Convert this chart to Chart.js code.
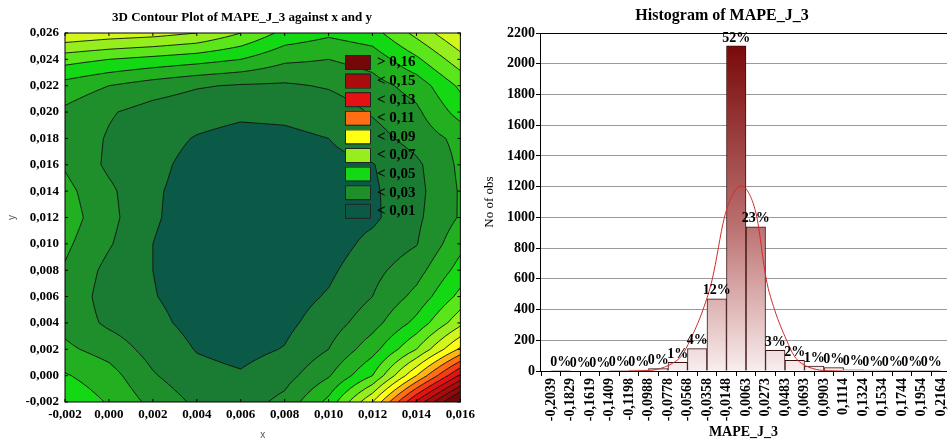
<!DOCTYPE html>
<html>
<head>
<meta charset="utf-8">
<script src="https://cdn.jsdelivr.net/npm/chart.js@4.4.1/dist/chart.umd.min.js"></script>
<style>
html,body{margin:0;padding:0;background:#fff;overflow:hidden;width:950px;height:441px;}
#contourBox{position:absolute;left:0;top:0;width:480px;height:441px;}
#histBox{position:absolute;left:480px;top:0;width:480px;height:441px;}
</style>
</head>
<body>
<div id="contourBox"><canvas id="contourChart" width="480" height="441"></canvas></div>
<div id="histBox"><canvas id="histChart" width="480" height="441"></canvas></div>
<script>
Chart.defaults.font.family = "'Liberation Serif', 'Times New Roman', serif";
Chart.defaults.color = '#000';

// ---- left: MAPE_J_3, on a 0.002 grid ----
const gridX = [-0.002, 0.000, 0.002, 0.004, 0.006, 0.008, 0.010, 0.012, 0.014, 0.016];
const gridY = [0.026, 0.024, 0.022, 0.020, 0.018, 0.016, 0.014, 0.012, 0.010, 0.008, 0.006, 0.004, 0.002, 0.000, -0.002];

const zY026 = [0.079, 0.076, 0.074, 0.070, 0.060, 0.047, 0.042, 0.046, 0.063, 0.080];
const zY024 = [0.054, 0.050, 0.047, 0.044, 0.040, 0.032, 0.030, 0.034, 0.048, 0.066];
const zY022 = [0.036, 0.030, 0.025, 0.021, 0.019, 0.0185, 0.021, 0.026, 0.034, 0.052];
const zY020 = [0.028, 0.021, 0.016, 0.013, 0.0115, 0.012, 0.014, 0.021, 0.028, 0.044];
const zY018 = [0.027, 0.019, 0.013, 0.0095, 0.0075, 0.008, 0.010, 0.016, 0.024, 0.033];
const zY016 = [0.029, 0.018, 0.012, 0.0075, 0.0055, 0.006, 0.007, 0.0095, 0.018, 0.032];
const zY014 = [0.033, 0.022, 0.011, 0.007, 0.005, 0.005, 0.006, 0.0085, 0.017, 0.031];
const zY012 = [0.035, 0.023, 0.011, 0.006, 0.004, 0.004, 0.005, 0.008, 0.018, 0.031];
const zY010 = [0.032, 0.021, 0.010, 0.005, 0.003, 0.003, 0.005, 0.013, 0.0195, 0.037];
const zY008 = [0.029, 0.017, 0.010, 0.005, 0.003, 0.0035, 0.008, 0.017, 0.026, 0.044];
const zY006 = [0.028, 0.015, 0.0105, 0.006, 0.004, 0.0055, 0.011, 0.020, 0.033, 0.053];
const zY004 = [0.027, 0.018, 0.0125, 0.007, 0.005, 0.0075, 0.015, 0.026, 0.043, 0.067];
const zY002 = [0.032, 0.026, 0.016, 0.0095, 0.007, 0.0105, 0.020, 0.036, 0.060, 0.092];
const zY000 = [0.041, 0.034, 0.021, 0.013, 0.011, 0.016, 0.029, 0.050, 0.090, 0.132];
const zYm002 = [0.048, 0.039, 0.027, 0.018, 0.015, 0.023, 0.043, 0.080, 0.132, 0.178];
const zRows = [zY026, zY024, zY022, zY020, zY018, zY016, zY014, zY012, zY010, zY008, zY006, zY004, zY002, zY000, zYm002];

const contourLevels = [0.01, 0.02, 0.03, 0.04, 0.05, 0.06, 0.07, 0.08, 0.09, 0.10, 0.11, 0.12, 0.13, 0.14, 0.15, 0.16];
const legendLabels = ['> 0,16', '< 0,15', '< 0,13', '< 0,11', '< 0,09', '< 0,07', '< 0,05', '< 0,03', '< 0,01'];

// ---- right: histogram of MAPE_J_3 ----
const binEdges = [-0.2039, -0.1829, -0.1619, -0.1409, -0.1198, -0.0988, -0.0778, -0.0568, -0.0358, -0.0148,
  0.0063, 0.0273, 0.0483, 0.0693, 0.0903, 0.1114, 0.1324, 0.1534, 0.1744, 0.1954, 0.2164];
const binCounts = [2, 0, 0, 2, 6, 15, 56, 146, 470, 2116, 939, 135, 69, 32, 22, 8, 6, 2, 2, 2];
const binPercents = ['0%', '0%', '0%', '0%', '0%', '0%', '1%', '4%', '12%', '52%', '23%', '3%', '2%', '1%', '0%', '0%', '0%', '0%', '0%', '0%'];
// fitted normal curve
const curveX = [-0.120, -0.105, -0.090, -0.073, -0.063, -0.054, -0.040, -0.030, -0.017, -0.008, 0.001, 0.010, 0.018, 0.028, 0.037, 0.050, 0.058, 0.066, 0.082, 0.095, 0.110];
const curveY = [0, 2, 10, 50, 100, 200, 400, 600, 1000, 1150, 1205, 1150, 1000, 600, 400, 200, 100, 50, 10, 2, 0];

// band colours, lowest band first
const bandColors = ['#0b5a47', '#1a7b33', '#1f8f2b', '#22b021', '#14d814', '#5ae61a', '#96ee1e', '#d2f71a', '#ffff14',
  '#ffb514', '#ff6e12', '#f53c12', '#e41212', '#c70e0e', '#ac0b0b', '#900a0a', '#740808'];
const legendBands = [16, 14, 12, 10, 8, 6, 4, 2, 0];

function commaFix(v, d) {
  if (Math.abs(v) < 1e-12) v = 0;
  return v.toFixed(d).replace('.', ',');
}

function zAt(xv, yv) {
  const fx = (xv - gridX[0]) / (gridX[1] - gridX[0]);
  const fy = (gridY[0] - yv) / (gridY[0] - gridY[1]);
  const i = Math.min(Math.max(Math.floor(fx), 0), gridX.length - 2);
  const j = Math.min(Math.max(Math.floor(fy), 0), gridY.length - 2);
  const tx = fx - i, ty = fy - j;
  const r0 = zRows[j], r1 = zRows[j + 1];
  return (r0[i] * (1 - tx) + r0[i + 1] * tx) * (1 - ty) + (r1[i] * (1 - tx) + r1[i + 1] * tx) * ty;
}

function bandOf(z) {
  let k = 0;
  while (k < contourLevels.length && z >= contourLevels[k]) k++;
  return k;
}

function hexRgb(h) {
  return [parseInt(h.slice(1, 3), 16), parseInt(h.slice(3, 5), 16), parseInt(h.slice(5, 7), 16)];
}

const contourPlugin = {
  id: 'contourPlugin',
  beforeDatasetsDraw(chart) {
    const {ctx, chartArea: a, scales: {x, y}} = chart;
    const w = Math.round(a.right - a.left), h = Math.round(a.bottom - a.top);
    const off = document.createElement('canvas');
    off.width = w; off.height = h;
    const octx = off.getContext('2d');
    const img = octx.createImageData(w, h);
    const rgb = bandColors.map(hexRgb);
    for (let j = 0; j < h; j++) {
      const yv = y.getValueForPixel(a.top + j + 0.5);
      for (let i = 0; i < w; i++) {
        const c = rgb[bandOf(zAt(x.getValueForPixel(a.left + i + 0.5), yv))];
        const p = (j * w + i) * 4;
        img.data[p] = c[0]; img.data[p + 1] = c[1]; img.data[p + 2] = c[2]; img.data[p + 3] = 255;
      }
    }
    octx.putImageData(img, 0, 0);
    ctx.drawImage(off, a.left, a.top, w, h);

    // contour lines (marching squares on a finer resample)
    const sub = 6;
    const nx = (gridX.length - 1) * sub, ny = (gridY.length - 1) * sub;
    const dx = (gridX[gridX.length - 1] - gridX[0]) / nx;
    const dy = (gridY[gridY.length - 1] - gridY[0]) / ny;
    const vals = [];
    for (let j = 0; j <= ny; j++) {
      const row = [];
      for (let i = 0; i <= nx; i++) row.push(zAt(gridX[0] + i * dx, gridY[0] + j * dy));
      vals.push(row);
    }
    const P = (i, j) => [x.getPixelForValue(gridX[0] + i * dx), y.getPixelForValue(gridY[0] + j * dy)];
    ctx.save();
    ctx.beginPath();
    ctx.rect(a.left, a.top, a.right - a.left, a.bottom - a.top);
    ctx.clip();
    ctx.strokeStyle = '#111';
    ctx.lineWidth = 0.9;
    ctx.beginPath();
    contourLevels.forEach(L => {
      for (let j = 0; j < ny; j++) {
        for (let i = 0; i < nx; i++) {
          const c = [[i, j], [i + 1, j], [i + 1, j + 1], [i, j + 1]];
          const v = c.map(q => vals[q[1]][q[0]]);
          const pts = [];
          for (let e = 0; e < 4; e++) {
            const v1 = v[e], v2 = v[(e + 1) % 4];
            if ((v1 >= L) !== (v2 >= L)) {
              const t = (L - v1) / (v2 - v1);
              const p1 = c[e], p2 = c[(e + 1) % 4];
              pts.push(P(p1[0] + (p2[0] - p1[0]) * t, p1[1] + (p2[1] - p1[1]) * t));
            }
          }
          if (pts.length >= 2) { ctx.moveTo(pts[0][0], pts[0][1]); ctx.lineTo(pts[1][0], pts[1][1]); }
          if (pts.length === 4) { ctx.moveTo(pts[2][0], pts[2][1]); ctx.lineTo(pts[3][0], pts[3][1]); }
        }
      }
    });
    ctx.stroke();
    ctx.restore();
  },
  afterDatasetsDraw(chart) {
    const {ctx, chartArea: a, scales: {x, y}} = chart;
    ctx.save();
    // frame + small inside ticks
    ctx.strokeStyle = '#000';
    ctx.lineWidth = 1;
    ctx.strokeRect(a.left, a.top, a.right - a.left, a.bottom - a.top);
    ctx.beginPath();
    gridX.forEach(v => {
      const px = x.getPixelForValue(v);
      ctx.moveTo(px, a.bottom); ctx.lineTo(px, a.bottom - 3);
      ctx.moveTo(px, a.top); ctx.lineTo(px, a.top + 3);
    });
    gridY.forEach(v => {
      const py = y.getPixelForValue(v);
      ctx.moveTo(a.left, py); ctx.lineTo(a.left + 3, py);
      ctx.moveTo(a.right, py); ctx.lineTo(a.right - 3, py);
    });
    ctx.stroke();

    // legend
    const lx = a.left + 280, ly = a.top + 22;
    ctx.font = 'bold 15px "Liberation Serif", serif';
    ctx.textBaseline = 'middle';
    ctx.textAlign = 'left';
    legendLabels.forEach((t, k) => {
      const top = ly + k * 18.6;
      ctx.fillStyle = bandColors[legendBands[k]];
      ctx.fillRect(lx, top, 25, 14);
      ctx.strokeStyle = '#222';
      ctx.strokeRect(lx + 0.5, top + 0.5, 25, 14);
      ctx.fillStyle = '#000';
      ctx.fillText(t, lx + 32, top + 7.5);
    });

    // title
    ctx.font = 'bold 13px "Liberation Serif", serif';
    ctx.textAlign = 'center';
    ctx.fillText('3D Contour Plot of MAPE_J_3 against x and y', 242, 18);
    ctx.restore();
  }
};

new Chart(document.getElementById('contourChart'), {
  type: 'scatter',
  data: {datasets: [{data: [], pointRadius: 0}]},
  options: {
    responsive: false,
    animation: false,
    layout: {padding: {top: 33, right: 19, left: 0, bottom: 0}},
    plugins: {legend: {display: false}, tooltip: {enabled: false}},
    scales: {
      x: {
        type: 'linear', min: -0.002, max: 0.016,
        afterBuildTicks: s => { s.ticks = gridX.map(v => ({value: v})); },
        afterFit: s => { s.height = 39; },
        grid: {display: false, drawTicks: false}, border: {display: false},
        ticks: {font: {size: 13, weight: 'bold'}, padding: 5, maxRotation: 0, callback: v => commaFix(v, 3)},
        title: {display: true, text: 'x', color: '#555', font: {size: 10, family: "'Liberation Sans', sans-serif"}, padding: 0}
      },
      y: {
        type: 'linear', min: -0.002, max: 0.026,
        afterBuildTicks: s => { s.ticks = gridY.slice().reverse().map(v => ({value: v})); },
        afterFit: s => { s.width = 65; },
        grid: {display: false, drawTicks: false}, border: {display: false},
        ticks: {font: {size: 13, weight: 'bold'}, padding: 6, callback: v => commaFix(v, 3)},
        title: {display: true, text: 'y', color: '#555', font: {size: 10, family: "'Liberation Sans', sans-serif"}, padding: {top: 6, bottom: 0}}
      }
    }
  },
  plugins: [contourPlugin]
});

// ---- histogram ----
const binCenters = binCounts.map((_, i) => (binEdges[i] + binEdges[i + 1]) / 2);
const maxCount = Math.max(...binCounts);

const histLabels = {
  id: 'histLabels',
  afterDatasetsDraw(chart) {
    const {ctx} = chart;
    const meta = chart.getDatasetMeta(0);
    ctx.save();
    ctx.font = 'bold 14px "Liberation Serif", serif';
    ctx.fillStyle = '#000';
    ctx.textAlign = 'center';
    ctx.textBaseline = 'bottom';
    meta.data.forEach((bar, i) => ctx.fillText(binPercents[i], bar.x, bar.y - 1));
    ctx.font = 'bold 16px "Liberation Serif", serif';
    ctx.textBaseline = 'middle';
    ctx.fillText('Histogram of MAPE_J_3', 242, 16);
    ctx.restore();
  }
};

new Chart(document.getElementById('histChart'), {
  data: {
    datasets: [
      {
        type: 'bar',
        order: 1,
        data: binCenters.map((c, i) => ({x: c, y: binCounts[i]})),
        barPercentage: 1,
        categoryPercentage: 1,
        borderColor: '#3a1010',
        borderWidth: 1,
        backgroundColor(c) {
          const ch = c.chart;
          if (!ch.chartArea || !ch.scales.y) return '#c88';
          const y0 = ch.scales.y.getPixelForValue(0), y1 = ch.scales.y.getPixelForValue(maxCount);
          const g = ch.ctx.createLinearGradient(0, y0, 0, y1);
          g.addColorStop(0, '#f8eeee');
          g.addColorStop(0.22, '#dcb0b0');
          g.addColorStop(0.45, '#bb6f6f');
          g.addColorStop(1, '#7a0a0a');
          return g;
        }
      },
      {
        type: 'line',
        order: 0,
        data: curveX.map((v, i) => ({x: v, y: curveY[i]})),
        borderColor: '#d42a2a',
        borderWidth: 1,
        pointRadius: 0,
        cubicInterpolationMode: 'monotone'
      }
    ]
  },
  options: {
    responsive: false,
    animation: false,
    layout: {padding: {top: 33, right: 12, left: 0, bottom: 0}},
    plugins: {legend: {display: false}, tooltip: {enabled: false}},
    scales: {
      x: {
        type: 'linear', offset: false, min: -0.2157, max: 0.2228,
        afterBuildTicks: s => { s.ticks = binEdges.map(v => ({value: v})); },
        afterFit: s => { s.height = 70; },
        grid: {display: true, drawOnChartArea: false, color: '#000', tickLength: 5},
        border: {display: true, color: '#000'},
        ticks: {font: {size: 14, weight: 'bold'}, padding: 2, autoSkip: false, minRotation: 90, maxRotation: 90,
          callback: (v, i) => commaFix(binEdges[i], 4)},
        title: {display: true, text: 'MAPE_J_3', font: {size: 14, weight: 'bold'}, padding: 0}
      },
      y: {
        min: 0, max: 2200,
        afterFit: s => { s.width = 60; },
        grid: {color: c => (c.tick && c.tick.value === 2200 ? '#000' : '#9a9a9a'), tickColor: '#000', tickLength: 4},
        border: {display: true, color: '#000'},
        ticks: {stepSize: 200, font: {size: 14, weight: 'bold'}, padding: 1, callback: v => String(v)},
        title: {display: true, text: 'No of obs', font: {size: 13}, padding: {top: 2, bottom: 0}}
      }
    }
  },
  plugins: [histLabels]
});
</script>
</body>
</html>
